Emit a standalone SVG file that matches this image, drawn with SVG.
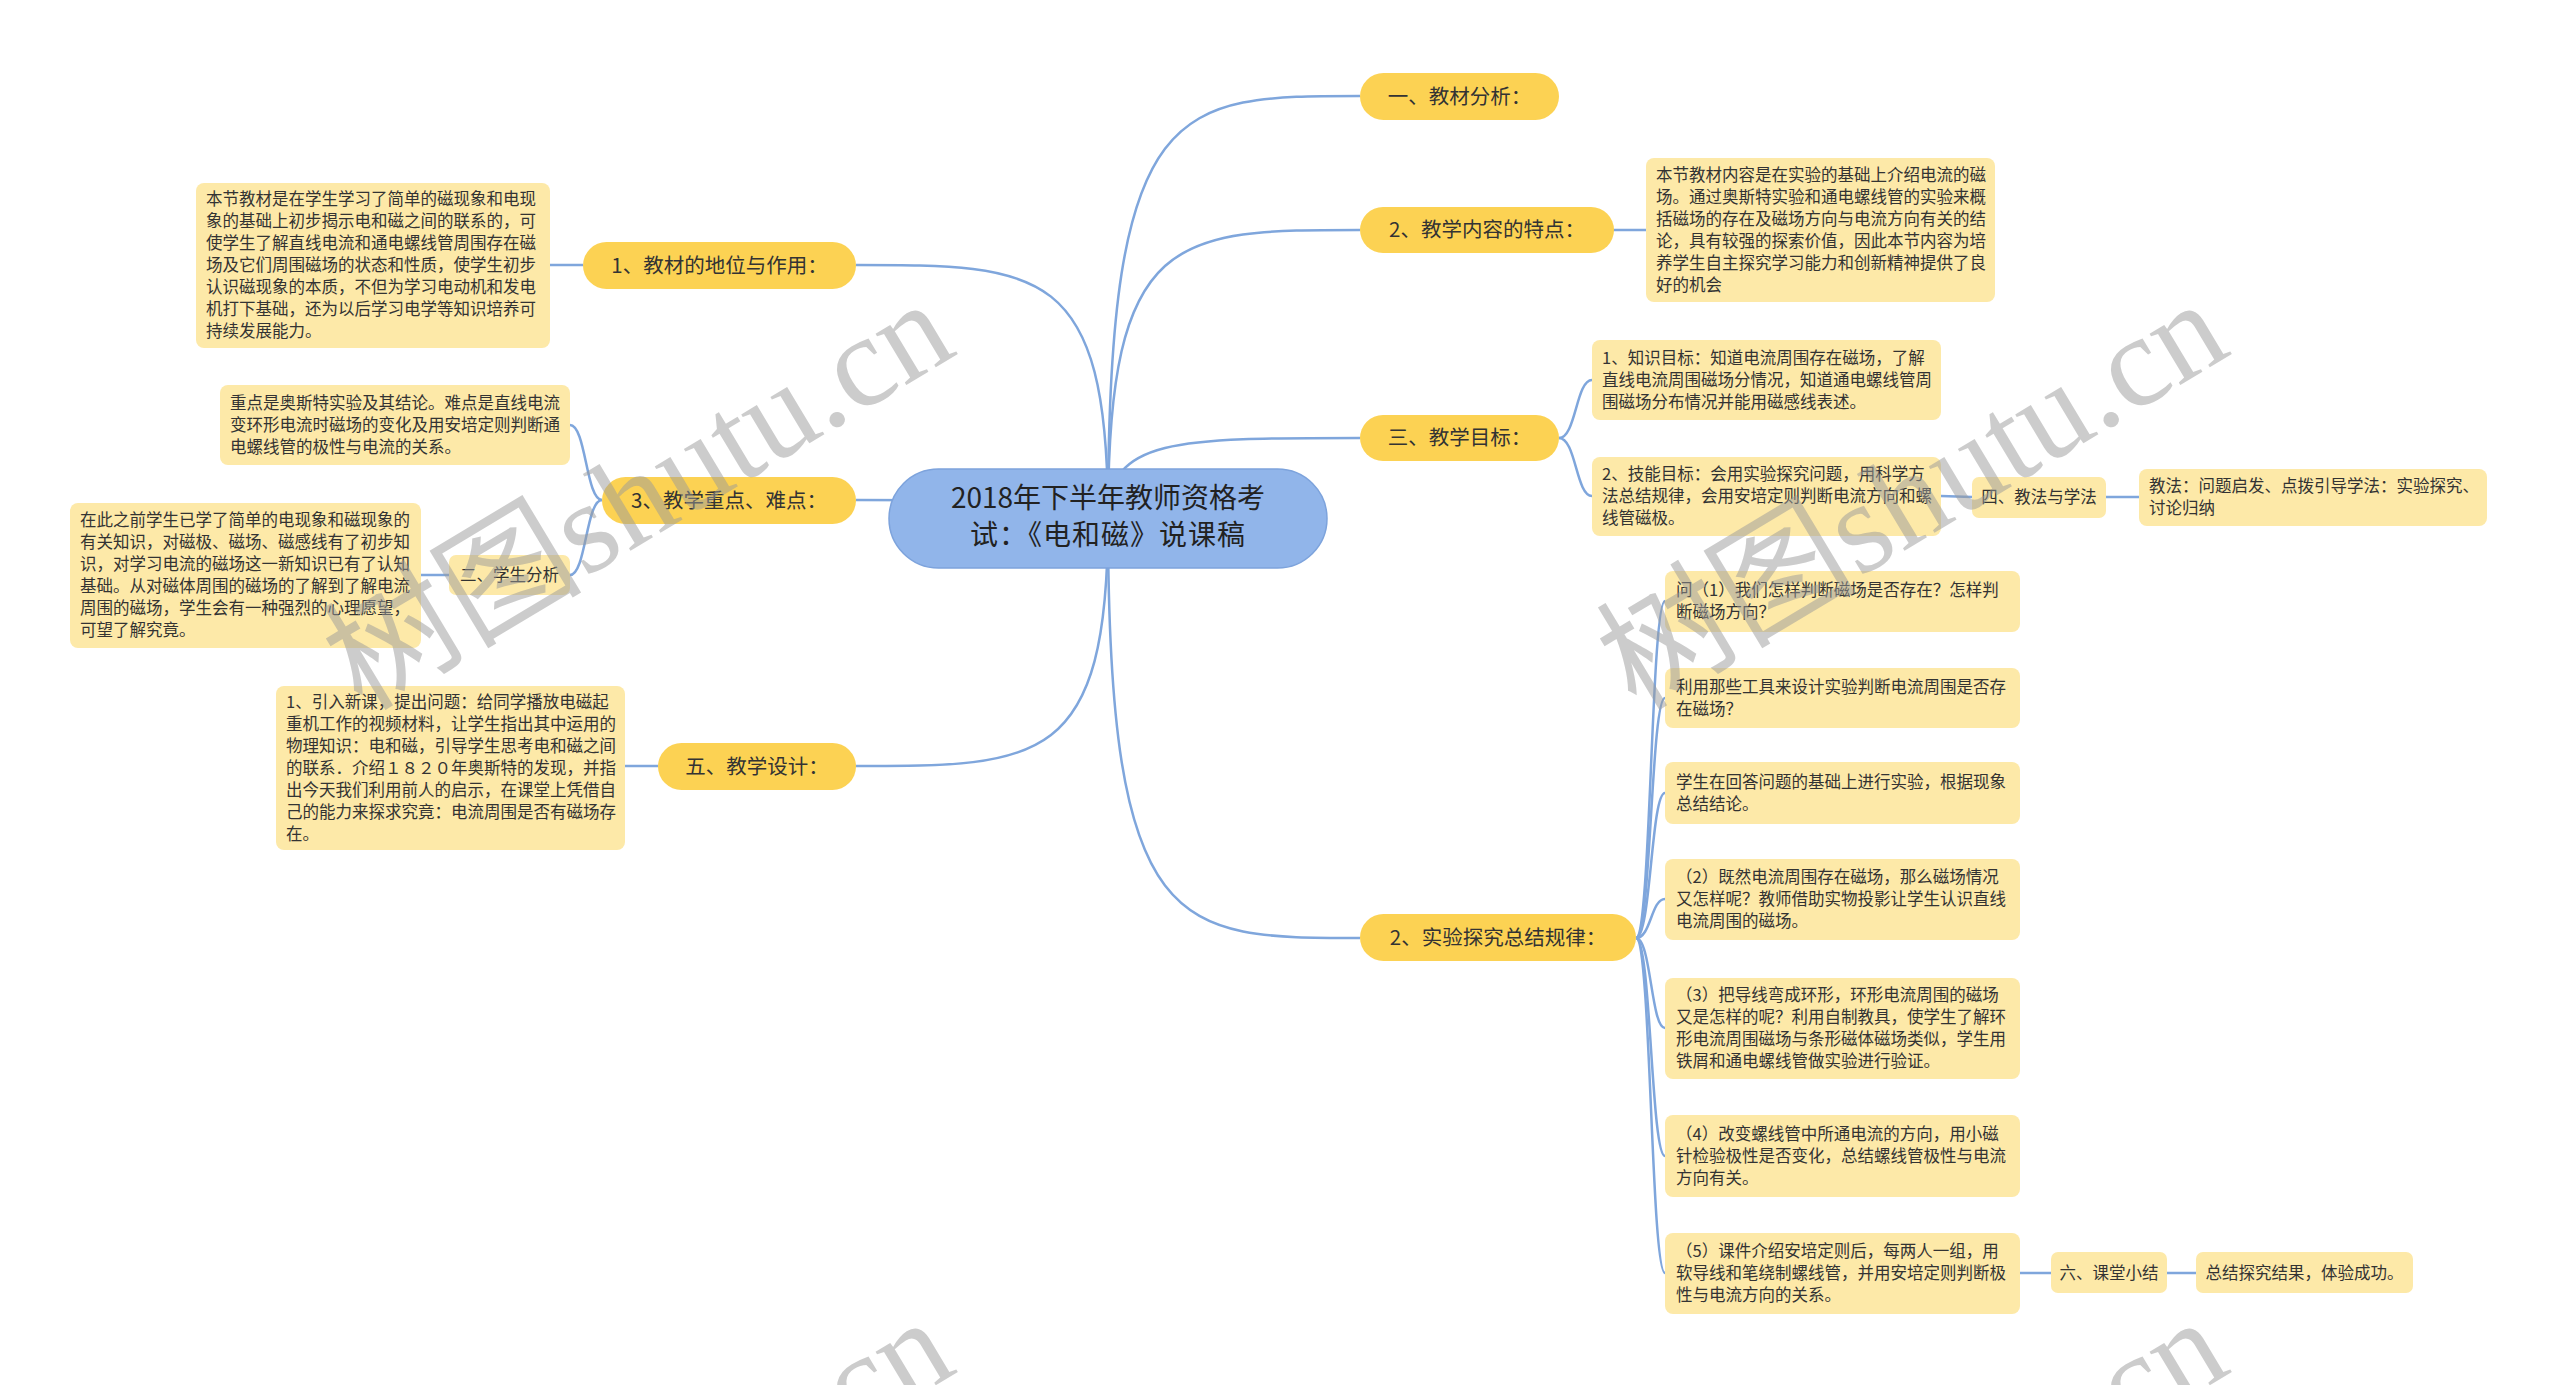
<svg xmlns="http://www.w3.org/2000/svg" width="2560" height="1385" viewBox="0 0 2560 1385">
<style>
.bg{fill:#ffffff}
.c{fill:none;stroke:#7fa6dc;stroke-width:2.5}
.n1{fill:#fcd253}
.bx{fill:#fde9a8}
.ctr{fill:#91b5ea;stroke:#7da3dc;stroke-width:1.5}
.t{font-family:"Noto Sans CJK SC","Liberation Sans",sans-serif;fill:#333333}
.tb{font-size:16.5px}
.t1{font-size:20.5px}
.t2{font-size:16.5px}
.tc{font-size:28px;fill:#222222}
.wm{font-family:"Liberation Serif","Noto Sans CJK SC",serif;font-size:130px;fill:#9a9a9a;fill-opacity:0.5}
</style>
<rect class="bg" x="0" y="0" width="2560" height="1385"/>

<g id="connectors">
  <!-- center to level 1 -->
  <path class="c" d="M1108,518 C1108,96 1176,96 1360,96"/>
  <path class="c" d="M1108,518 C1108,230 1176,230 1360,230"/>
  <path class="c" d="M1108,518 C1108,438 1176,438 1360,438"/>
  <path class="c" d="M1108,518 C1108,938 1176,938 1360,938"/>
  <path class="c" d="M1108,518 C1108,265 1040,265 856,265"/>
  <path class="c" d="M1108,518 C1108,500 1040,500 856,500"/>
  <path class="c" d="M1108,518 C1108,766 1040,766 856,766"/>
  <!-- right branches -->
  <path class="c" d="M1613,230 L1646,230"/>
  <path class="c" d="M1559,438 C1576,438 1576,380 1592,380"/>
  <path class="c" d="M1559,438 C1576,438 1576,496 1592,496"/>
  <path class="c" d="M1941,496 L1972,497"/>
  <path class="c" d="M2106,497 L2139,497"/>
  <path class="c" d="M1636,938 C1651,938 1651,601 1665,601"/>
  <path class="c" d="M1636,938 C1651,938 1651,698 1665,698"/>
  <path class="c" d="M1636,938 C1651,938 1651,793 1665,793"/>
  <path class="c" d="M1636,938 C1651,938 1651,899 1665,899"/>
  <path class="c" d="M1636,938 C1651,938 1651,1028 1665,1028"/>
  <path class="c" d="M1636,938 C1651,938 1651,1156 1665,1156"/>
  <path class="c" d="M1636,938 C1651,938 1651,1273 1665,1273"/>
  <path class="c" d="M2020,1273 L2051,1273"/>
  <path class="c" d="M2167,1273 L2196,1273"/>
  <!-- left branches -->
  <path class="c" d="M583,265 L550,265"/>
  <path class="c" d="M602,500 C586,500 586,425 570,425"/>
  <path class="c" d="M602,500 C586,500 586,575 570,575"/>
  <path class="c" d="M449,575 L421,575"/>
  <path class="c" d="M658,766 L625,766"/>
</g>

<g id="center">
  <rect class="ctr" x="889" y="469" width="438" height="99" rx="49.5"/>
  <text class="t tc" x="1108" y="508" text-anchor="middle">2018年下半年教师资格考</text>
  <text class="t tc" x="1108" y="545" text-anchor="middle" letter-spacing="1">试：《电和磁》说课稿</text>
</g>

<!-- right side -->
<g id="r1">
  <rect class="n1" x="1360" y="73" width="199" height="47" rx="23.5"/>
  <text class="t t1" x="1459.5" y="103.5" text-anchor="middle">一、教材分析：</text>
</g>
<g id="r2">
  <rect class="n1" x="1360" y="207" width="254" height="46" rx="23"/>
  <text class="t t1" x="1487" y="237" text-anchor="middle">2、教学内容的特点：</text>
</g>
<g id="r2a">
  <rect class="bx" x="1646" y="158" width="349" height="144" rx="8"/>
  <text class="t tb"><tspan x="1656" y="181">本节教材内容是在实验的基础上介绍电流的磁</tspan><tspan x="1656" y="203">场。通过奥斯特实验和通电螺线管的实验来概</tspan><tspan x="1656" y="225">括磁场的存在及磁场方向与电流方向有关的结</tspan><tspan x="1656" y="247">论，具有较强的探索价值，因此本节内容为培</tspan><tspan x="1656" y="269">养学生自主探究学习能力和创新精神提供了良</tspan><tspan x="1656" y="291">好的机会</tspan></text>
</g>
<g id="r3">
  <rect class="n1" x="1360" y="415" width="199" height="46" rx="23"/>
  <text class="t t1" x="1459.5" y="445" text-anchor="middle">三、教学目标：</text>
</g>
<g id="r3a">
  <rect class="bx" x="1592" y="340" width="349" height="80" rx="8"/>
  <text class="t tb"><tspan x="1602" y="364">1、知识目标：知道电流周围存在磁场，了解</tspan><tspan x="1602" y="386">直线电流周围磁场分情况，知道通电螺线管周</tspan><tspan x="1602" y="408">围磁场分布情况并能用磁感线表述。</tspan></text>
</g>
<g id="r3b">
  <rect class="bx" x="1592" y="457" width="349" height="79" rx="8"/>
  <text class="t tb"><tspan x="1602" y="480">2、技能目标：会用实验探究问题，用科学方</tspan><tspan x="1602" y="502">法总结规律，会用安培定则判断电流方向和螺</tspan><tspan x="1602" y="524">线管磁极。</tspan></text>
</g>
<g id="r3c">
  <rect class="bx" x="1972" y="477" width="134" height="41" rx="7"/>
  <text class="t t2" x="2039" y="503" text-anchor="middle">四、教法与学法</text>
</g>
<g id="r3d">
  <rect class="bx" x="2139" y="469" width="348" height="57" rx="8"/>
  <text class="t tb"><tspan x="2149" y="492">教法：问题启发、点拨引导学法：实验探究、</tspan><tspan x="2149" y="514">讨论归纳</tspan></text>
</g>
<g id="r4">
  <rect class="n1" x="1360" y="914" width="276" height="47" rx="23.5"/>
  <text class="t t1" x="1498" y="945" text-anchor="middle">2、实验探究总结规律：</text>
</g>
<g id="r4a">
  <rect class="bx" x="1665" y="571" width="355" height="61" rx="8"/>
  <text class="t tb"><tspan x="1676" y="596">问（1）我们怎样判断磁场是否存在？怎样判</tspan><tspan x="1676" y="618">断磁场方向？</tspan></text>
</g>
<g id="r4b">
  <rect class="bx" x="1665" y="668" width="355" height="60" rx="8"/>
  <text class="t tb"><tspan x="1676" y="693">利用那些工具来设计实验判断电流周围是否存</tspan><tspan x="1676" y="715">在磁场？</tspan></text>
</g>
<g id="r4c">
  <rect class="bx" x="1665" y="762" width="355" height="62" rx="8"/>
  <text class="t tb"><tspan x="1676" y="788">学生在回答问题的基础上进行实验，根据现象</tspan><tspan x="1676" y="810">总结结论。</tspan></text>
</g>
<g id="r4d">
  <rect class="bx" x="1665" y="859" width="355" height="81" rx="8"/>
  <text class="t tb"><tspan x="1676" y="883">（2）既然电流周围存在磁场，那么磁场情况</tspan><tspan x="1676" y="905">又怎样呢？教师借助实物投影让学生认识直线</tspan><tspan x="1676" y="927">电流周围的磁场。</tspan></text>
</g>
<g id="r4e">
  <rect class="bx" x="1665" y="978" width="355" height="101" rx="8"/>
  <text class="t tb"><tspan x="1676" y="1001">（3）把导线弯成环形，环形电流周围的磁场</tspan><tspan x="1676" y="1023">又是怎样的呢？利用自制教具，使学生了解环</tspan><tspan x="1676" y="1045">形电流周围磁场与条形磁体磁场类似，学生用</tspan><tspan x="1676" y="1067">铁屑和通电螺线管做实验进行验证。</tspan></text>
</g>
<g id="r4f">
  <rect class="bx" x="1665" y="1115" width="355" height="82" rx="8"/>
  <text class="t tb"><tspan x="1676" y="1140">（4）改变螺线管中所通电流的方向，用小磁</tspan><tspan x="1676" y="1162">针检验极性是否变化，总结螺线管极性与电流</tspan><tspan x="1676" y="1184">方向有关。</tspan></text>
</g>
<g id="r4g">
  <rect class="bx" x="1665" y="1233" width="355" height="81" rx="8"/>
  <text class="t tb"><tspan x="1676" y="1257">（5）课件介绍安培定则后，每两人一组，用</tspan><tspan x="1676" y="1279">软导线和笔绕制螺线管，并用安培定则判断极</tspan><tspan x="1676" y="1301">性与电流方向的关系。</tspan></text>
</g>
<g id="r4h">
  <rect class="bx" x="2051" y="1252" width="116" height="41" rx="7"/>
  <text class="t t2" x="2109" y="1278.5" text-anchor="middle">六、课堂小结</text>
</g>
<g id="r4i">
  <rect class="bx" x="2196" y="1252" width="217" height="41" rx="7"/>
  <text class="t tb" x="2304.5" y="1278.5" text-anchor="middle">总结探究结果，体验成功。</text>
</g>

<!-- left side -->
<g id="l1">
  <rect class="n1" x="583" y="242" width="273" height="47" rx="23.5"/>
  <text class="t t1" x="719.5" y="272.5" text-anchor="middle">1、教材的地位与作用：</text>
</g>
<g id="l1a">
  <rect class="bx" x="196" y="183" width="354" height="165" rx="8"/>
  <text class="t tb"><tspan x="206" y="205">本节教材是在学生学习了简单的磁现象和电现</tspan><tspan x="206" y="227">象的基础上初步揭示电和磁之间的联系的，可</tspan><tspan x="206" y="249">使学生了解直线电流和通电螺线管周围存在磁</tspan><tspan x="206" y="271">场及它们周围磁场的状态和性质，使学生初步</tspan><tspan x="206" y="293">认识磁现象的本质，不但为学习电动机和发电</tspan><tspan x="206" y="315">机打下基础，还为以后学习电学等知识培养可</tspan><tspan x="206" y="337">持续发展能力。</tspan></text>
</g>
<g id="l2">
  <rect class="n1" x="602" y="477" width="254" height="47" rx="23.5"/>
  <text class="t t1" x="729" y="507.5" text-anchor="middle">3、教学重点、难点：</text>
</g>
<g id="l2a">
  <rect class="bx" x="220" y="385" width="350" height="80" rx="8"/>
  <text class="t tb"><tspan x="230" y="409">重点是奥斯特实验及其结论。难点是直线电流</tspan><tspan x="230" y="431">变环形电流时磁场的变化及用安培定则判断通</tspan><tspan x="230" y="453">电螺线管的极性与电流的关系。</tspan></text>
</g>
<g id="l2b">
  <rect class="bx" x="449" y="555" width="121" height="40" rx="7"/>
  <text class="t t2" x="509.5" y="581" text-anchor="middle">二、学生分析</text>
</g>
<g id="l2c">
  <rect class="bx" x="70" y="503" width="351" height="145" rx="8"/>
  <text class="t tb"><tspan x="80" y="526">在此之前学生已学了简单的电现象和磁现象的</tspan><tspan x="80" y="548">有关知识，对磁极、磁场、磁感线有了初步知</tspan><tspan x="80" y="570">识，对学习电流的磁场这一新知识已有了认知</tspan><tspan x="80" y="592">基础。从对磁体周围的磁场的了解到了解电流</tspan><tspan x="80" y="614">周围的磁场，学生会有一种强烈的心理愿望，</tspan><tspan x="80" y="636">可望了解究竟。</tspan></text>
</g>
<g id="l3">
  <rect class="n1" x="658" y="743" width="198" height="47" rx="23.5"/>
  <text class="t t1" x="757" y="773.5" text-anchor="middle">五、教学设计：</text>
</g>
<g id="l3a">
  <rect class="bx" x="276" y="686" width="349" height="164" rx="8"/>
  <text class="t tb"><tspan x="286" y="708">1、引入新课，提出问题：给同学播放电磁起</tspan><tspan x="286" y="730">重机工作的视频材料，让学生指出其中运用的</tspan><tspan x="286" y="752">物理知识：电和磁，引导学生思考电和磁之间</tspan><tspan x="286" y="774">的联系．介绍１８２０年奥斯特的发现，并指</tspan><tspan x="286" y="796">出今天我们利用前人的启示，在课堂上凭借自</tspan><tspan x="286" y="818">己的能力来探求究竟：电流周围是否有磁场存</tspan><tspan x="286" y="840">在。</tspan></text>
</g>

<g id="watermarks">
  <text class="wm" x="362" y="712" transform="rotate(-31 362 712)">树图shutu.cn</text>
  <text class="wm" x="1636" y="712" transform="rotate(-31 1636 712)">树图shutu.cn</text>
  <text class="wm" x="362" y="1730" transform="rotate(-31 362 1730)">树图shutu.cn</text>
  <text class="wm" x="1636" y="1730" transform="rotate(-31 1636 1730)">树图shutu.cn</text>
</g>
</svg>
